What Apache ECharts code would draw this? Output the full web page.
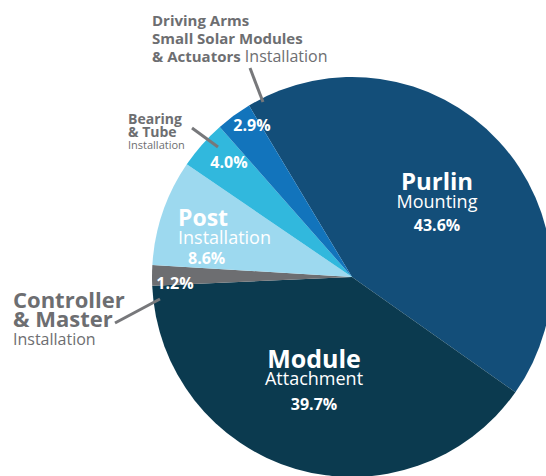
<!DOCTYPE html>
<html><head><meta charset="utf-8">
<script src="https://cdn.jsdelivr.net/npm/echarts@6/dist/echarts.min.js"></script>
<style>html,body{margin:0;padding:0;background:#fff}#c{width:546px;height:476px}</style>
</head><body><div id="c"></div>
<script>
// ---- data ----
const categories = ['Purlin Mounting', 'Module Attachment', 'Controller & Master Installation', 'Post Installation', 'Bearing & Tube Installation', 'Driving Arms Small Solar Modules & Actuators Installation'];
const titles = ['Purlin', 'Module', 'Controller\n& Master', 'Post', 'Bearing\n& Tube', 'Driving Arms\nSmall Solar Modules\n& Actuators'];
const subtitles = ['Mounting', 'Attachment', 'Installation', 'Installation', 'Installation', 'Installation'];
const values = [43.6, 39.7, 1.2, 8.6, 4.0, 2.9];
const colors = ['#134e79', '#0b3a4f', '#6d6e71', '#9dd9ef', '#31b8dd', '#1274bc'];
const insideBig = [true, true, false, true, false, false];
const outside = [false, false, true, false, true, true];

// ---- layout / style config ----
const FONT = 'Open Sans';
const GREY = '#6d6e71';
const innerPos = [
  {x: 437, y: 205, align: 'center'},
  {x: 314, y: 384, align: 'center'},
  {x: 175, y: 283, align: 'center'},
  {x: 178, y: 238, align: 'left'},
  {x: 229, y: 162, align: 'center'},
  {x: 252, y: 125, align: 'center'}
];
const outerPos = [null, null, {x: 13, y: 289}, null, {x: 128, y: 112}, {x: 152, y: 11}];
const outerStyle = {2: ['cb', 'cs'], 4: ['bb', 'bs'], 5: ['ob', 'or']};

function pct(v) { return v.toFixed(1) + '%'; }

function innerFormatter(p) {
  const i = p.dataIndex;
  if (insideBig[i]) {
    return '{t' + i + '|' + titles[i] + '}\n{s' + i + '|' + subtitles[i] + '}\n{p' + i + '|' + pct(values[i]) + '}';
  }
  return '{p|' + pct(values[i]) + '}';
}
function outerFormatter(p) {
  const i = p.dataIndex;
  if (!outside[i]) return '';
  const st = outerStyle[i];
  const lines = titles[i].split('\n').map(l => '{' + st[0] + '|' + l + '}');
  if (i === 5) {
    lines[lines.length - 1] += '{' + st[1] + '| ' + subtitles[i] + '}';
  } else {
    lines.push('{' + st[1] + '|' + subtitles[i] + '}');
  }
  return lines.join('\n');
}

const innerData = categories.map((c, i) => ({name: c, value: values[i], itemStyle: {color: colors[i]}}));
const outerData = categories.map((c, i) => ({name: c, value: values[i], label: {show: outside[i]}}));

const W = '#ffffff';
const option = {
  animation: false,
  backgroundColor: '#ffffff',
  series: [
    {
      type: 'pie',
      center: [352, 277],
      radius: [0, 200],
      startAngle: 121,
      minAngle: 6,
      clockwise: true,
      emphasis: {disabled: true},
      silent: true,
      data: innerData,
      labelLine: {show: false},
      label: {
        show: true,
        position: 'inside',
        formatter: innerFormatter,
        color: W,
        fontFamily: FONT,
        rich: {
          t0: {fontSize: 24, fontWeight: 'bold', color: W, fontFamily: FONT, lineHeight: 20},
          s0: {fontSize: 18, color: W, fontFamily: FONT, lineHeight: 20},
          p0: {fontSize: 16, fontWeight: 'bold', color: W, fontFamily: FONT, lineHeight: 29},
          t1: {fontSize: 25, fontWeight: 'bold', color: W, fontFamily: FONT, lineHeight: 20},
          s1: {fontSize: 18, color: W, fontFamily: FONT, lineHeight: 20},
          p1: {fontSize: 16, fontWeight: 'bold', color: W, fontFamily: FONT, lineHeight: 33},
          t3: {fontSize: 23, fontWeight: 'bold', color: W, fontFamily: FONT, lineHeight: 20},
          s3: {fontSize: 18, color: W, fontFamily: FONT, lineHeight: 20},
          p3: {fontSize: 16, fontWeight: 'bold', color: W, fontFamily: FONT, lineHeight: 23, padding: [0, 0, 0, 10]},
          p: {fontSize: 16, fontWeight: 'bold', color: W, fontFamily: FONT}
        }
      },
      labelLayout: function (p) {
        const q = innerPos[p.dataIndex];
        return {x: q.x, y: q.y, align: q.align, verticalAlign: 'middle'};
      }
    },
    {
      type: 'pie',
      center: [352, 277],
      radius: [0, 200],
      startAngle: 121,
      minAngle: 6,
      silent: true,
      emphasis: {disabled: true},
      itemStyle: {color: 'rgba(0,0,0,0)'},
      data: outerData,
      labelLine: {show: false},
      label: {
        position: 'inside',
        formatter: outerFormatter,
        color: GREY,
        fontFamily: FONT,
        rich: {
          ob: {fontSize: 15, fontWeight: 'bold', color: GREY, fontFamily: FONT, lineHeight: 18},
          or: {fontSize: 16, color: GREY, fontFamily: FONT, lineHeight: 18},
          bb: {fontSize: 14, fontWeight: 'bold', color: GREY, fontFamily: FONT, lineHeight: 13},
          bs: {fontSize: 11, color: GREY, fontFamily: FONT, lineHeight: 12},
          cb: {fontSize: 22, fontWeight: 'bold', color: GREY, fontFamily: FONT, lineHeight: 19},
          cs: {fontSize: 16, color: GREY, fontFamily: FONT, lineHeight: 23}
        }
      },
      labelLayout: function (p) {
        const q = outerPos[p.dataIndex];
        if (!q) return {};
        return {x: q.x, y: q.y, align: 'left', verticalAlign: 'top'};
      }
    }
  ],
  graphic: {
    elements: [
      {type: 'line', z: 100, shape: {x1: 250, y1: 68, x2: 263, y2: 102}, style: {stroke: '#77787b', lineWidth: 3}},
      {type: 'line', z: 100, shape: {x1: 192, y1: 128, x2: 218, y2: 147}, style: {stroke: '#77787b', lineWidth: 3}},
      {type: 'line', z: 100, shape: {x1: 115, y1: 323, x2: 160, y2: 299}, style: {stroke: '#77787b', lineWidth: 3}}
    ]
  }
};

const chart = echarts.init(document.getElementById('c'), null, {renderer: 'svg', width: 546, height: 476});
chart.setOption(option);
</script>
</body></html>
